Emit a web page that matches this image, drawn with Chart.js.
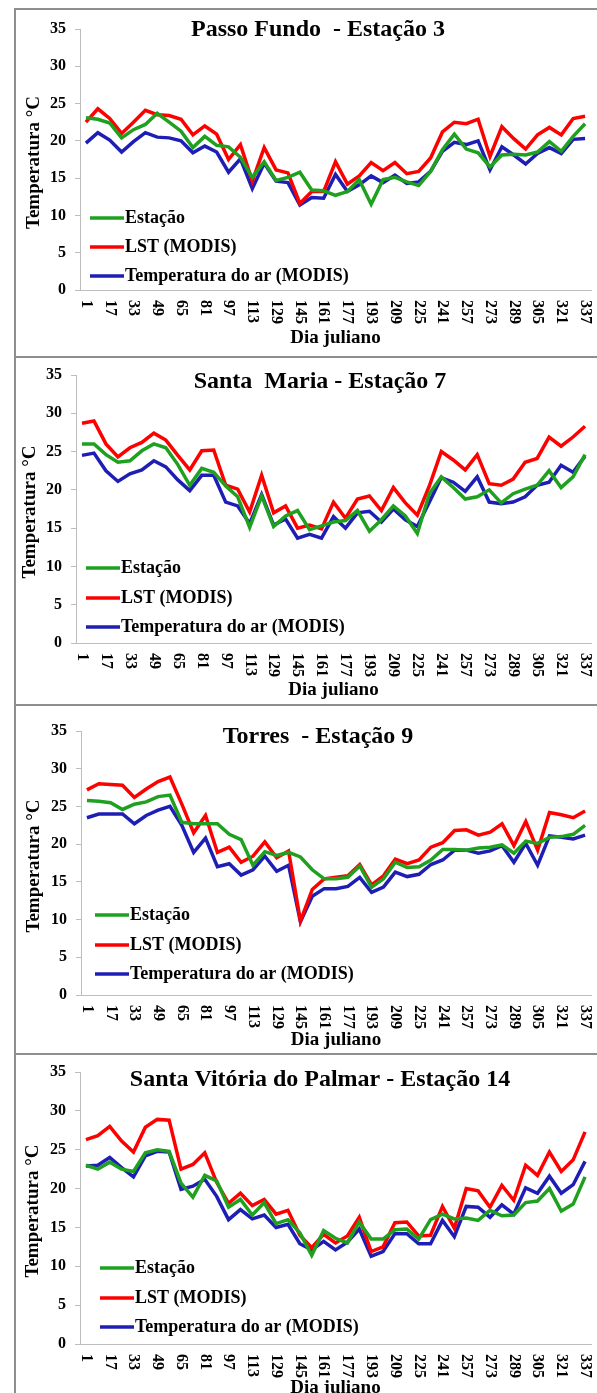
<!DOCTYPE html>
<html>
<head>
<meta charset="utf-8">
<script src="https://cdn.jsdelivr.net/npm/chart.js@4.4.1/dist/chart.umd.min.js"></script>
<style>
  body { margin: 0; background: #fff; width: 597px; height: 1393px; overflow: hidden; position: relative; }
  .panel { position: absolute; left: 14px; width: 620px; border: 2px solid #8e8e8e; border-right: none; box-sizing: border-box; }
  canvas { position: absolute; left: 0; }
</style>
</head>
<body>
<div id="wrap"></div>
<script>
// dias julianos (compostos MODIS de 8 dias)
const dias = [1, 9, 17, 25, 33, 41, 49, 57, 65, 73, 81, 89, 97, 105, 113, 121, 129, 137, 145, 153, 161, 169,
  177, 185, 193, 201, 209, 217, 225, 233, 241, 249, 257, 265, 273, 281, 289, 297, 305, 313, 321, 329, 337];
const yTicks = [0, 5, 10, 15, 20, 25, 30, 35];
const seriesNames = ['Estação', 'LST (MODIS)', 'Temperatura do ar (MODIS)'];
const titles = ['Passo Fundo  - Estação 3', 'Santa  Maria - Estação 7', 'Torres  - Estação 9', 'Santa Vitória do Palmar - Estação 14'];

// Passo Fundo
const pfEstacao = [23.1, 22.9, 22.4, 20.4, 21.5, 22.2, 23.7, 22.5, 21.3, 19.1, 20.6, 19.4, 19.2, 17.8, 15.1, 17.2, 14.7, 15.1, 15.8, 13.4, 13.3, 12.7,
  13.2, 14.8, 11.5, 14.8, 15.1, 14.5, 14.0, 15.9, 18.8, 20.9, 18.9, 18.4, 16.5, 18.1, 18.2, 18.1, 18.5, 19.9, 18.6, 20.6, 22.3];
const pfLST = [22.5, 24.3, 23.0, 21.0, 22.5, 24.1, 23.5, 23.4, 22.9, 20.8, 22.0, 20.9, 17.5, 19.5, 14.6, 19.1, 16.1, 15.7, 11.6, 13.2, 13.2, 17.2,
  14.2, 15.3, 17.1, 16.0, 17.1, 15.6, 15.9, 17.7, 21.2, 22.5, 22.3, 22.9, 17.9, 21.9, 20.3, 18.9, 20.8, 21.8, 20.8, 23.0, 23.3];
const pfAr = [19.7, 21.1, 20.1, 18.5, 19.9, 21.1, 20.5, 20.4, 20.0, 18.4, 19.3, 18.5, 15.8, 17.6, 13.6, 17.0, 14.6, 14.4, 11.4, 12.4, 12.3, 15.5,
  13.2, 14.1, 15.3, 14.4, 15.4, 14.3, 14.5, 15.9, 18.6, 19.8, 19.5, 20.0, 16.1, 19.2, 18.1, 16.9, 18.3, 19.1, 18.3, 20.2, 20.3];

// Santa Maria
const smEstacao = [26.0, 26.0, 24.6, 23.6, 23.8, 25.1, 26.0, 25.5, 23.3, 20.6, 22.8, 22.3, 20.5, 19.1, 15.1, 19.2, 15.2, 16.6, 17.3, 14.8, 15.3, 15.8,
  16.0, 17.3, 14.6, 16.1, 17.9, 16.6, 14.3, 19.5, 21.7, 20.3, 18.8, 19.1, 20.0, 18.3, 19.5, 20.1, 20.6, 22.5, 20.3, 21.7, 24.6];
const smLST = [28.7, 29.0, 26.0, 24.3, 25.5, 26.2, 27.4, 26.5, 24.5, 22.6, 25.1, 25.2, 20.6, 20.1, 17.1, 21.9, 17.0, 17.9, 15.0, 15.4, 14.9, 18.4,
  16.3, 18.8, 19.2, 17.3, 20.3, 18.3, 16.7, 20.5, 25.0, 23.9, 22.6, 24.6, 20.8, 20.6, 21.4, 23.6, 24.1, 26.9, 25.7, 26.9, 28.3];
const smAr = [24.5, 24.8, 22.5, 21.1, 22.1, 22.6, 23.8, 23.0, 21.3, 19.9, 21.9, 21.9, 18.4, 17.9, 15.6, 19.4, 15.4, 16.2, 13.7, 14.2, 13.7, 16.5,
  15.0, 17.0, 17.2, 15.8, 17.5, 16.1, 15.2, 18.4, 21.6, 21.0, 19.8, 21.7, 18.4, 18.2, 18.4, 19.1, 20.6, 21.0, 23.2, 22.3, 24.4];

// Torres
const toEstacao = [25.8, 25.7, 25.5, 24.6, 25.3, 25.6, 26.3, 26.5, 22.9, 22.7, 22.7, 22.7, 21.3, 20.6, 17.2, 19.0, 18.5, 18.9, 18.3, 16.6, 15.4, 15.4,
  15.6, 17.1, 14.3, 15.4, 17.6, 16.9, 17.0, 17.9, 19.3, 19.3, 19.2, 19.5, 19.6, 19.9, 18.8, 20.4, 20.1, 20.9, 21.0, 21.3, 22.5];
const toLST = [27.2, 28.0, 27.9, 27.8, 26.2, 27.3, 28.3, 28.9, 25.3, 21.5, 23.8, 18.9, 19.6, 17.6, 18.4, 20.3, 18.2, 19.1, 9.8, 14.0, 15.4, 15.6,
  15.8, 17.3, 14.6, 15.8, 18.0, 17.4, 17.9, 19.6, 20.2, 21.8, 21.9, 21.2, 21.6, 22.7, 19.8, 23.0, 19.2, 24.2, 23.9, 23.5, 24.4];
const toAr = [23.5, 24.0, 24.0, 24.0, 22.7, 23.8, 24.5, 25.0, 22.5, 18.9, 20.8, 17.0, 17.4, 15.9, 16.6, 18.4, 16.4, 17.2, 9.7, 13.1, 14.1, 14.1,
  14.4, 15.6, 13.6, 14.3, 16.3, 15.7, 16.0, 17.3, 17.9, 19.2, 19.2, 18.8, 19.1, 19.8, 17.6, 20.1, 17.2, 21.1, 20.9, 20.7, 21.2];

// Santa Vitória do Palmar
const svEstacao = [23.0, 22.5, 23.4, 22.5, 22.2, 24.6, 25.0, 24.8, 20.7, 18.9, 21.7, 21.0, 17.6, 18.6, 16.6, 18.2, 15.5, 16.0, 14.3, 11.4, 14.6, 13.6,
  13.0, 15.7, 13.5, 13.5, 14.7, 14.8, 13.5, 16.0, 16.7, 16.1, 16.2, 15.9, 17.2, 16.5, 16.6, 18.2, 18.4, 20.0, 17.1, 18.0, 21.5];
const svLST = [26.3, 26.8, 28.0, 26.1, 24.7, 27.9, 28.9, 28.8, 22.5, 23.1, 24.6, 20.8, 18.1, 19.4, 17.8, 18.6, 16.7, 17.2, 14.0, 12.4, 14.1, 13.0,
  13.9, 16.3, 11.9, 12.5, 15.6, 15.7, 13.9, 14.0, 17.7, 14.9, 20.0, 19.7, 17.6, 20.4, 18.5, 23.0, 21.7, 24.7, 22.2, 23.7, 27.3];
const svAr = [22.9, 23.0, 24.0, 22.7, 21.5, 24.2, 24.8, 24.7, 19.9, 20.3, 21.2, 19.0, 16.0, 17.3, 16.1, 16.6, 15.0, 15.4, 12.9, 12.1, 13.2, 12.1,
  13.1, 14.8, 11.3, 11.9, 14.2, 14.2, 12.9, 12.9, 15.9, 13.8, 17.7, 17.6, 16.3, 17.9, 16.7, 20.1, 19.4, 21.6, 19.4, 20.5, 23.5];

const colors = ['#1fa01f', '#ff0000', '#1e1eb4'];
const FONT = "'Liberation Serif', 'Times New Roman', serif";

// posicoes de cada painel na pagina (px)
const panels = [
  { top: 8, h: 348, axisLeft: 80, y35: 29, y0: 290, titleX: 318, titleY: 30, yTitleX: 34, xTitleY: 338, legX: 90, legY: [218, 247, 276], data: [pfEstacao, pfLST, pfAr] },
  { top: 356, h: 348, axisLeft: 76, y35: 375, y0: 643, titleX: 320, titleY: 382, yTitleX: 30, xTitleY: 690, legX: 86, legY: [568, 598, 627], data: [smEstacao, smLST, smAr] },
  { top: 704, h: 349, axisLeft: 81, y35: 731, y0: 995, titleX: 318, titleY: 737, yTitleX: 34, xTitleY: 1040, legX: 95, legY: [915, 945, 974], data: [toEstacao, toLST, toAr] },
  { top: 1053, h: 340, axisLeft: 80, y35: 1072, y0: 1344, titleX: 320, titleY: 1080, yTitleX: 33, xTitleY: 1388, legX: 100, legY: [1268, 1298, 1327], data: [svEstacao, svLST, svAr] }
];

const wrap = document.getElementById('wrap');

panels.forEach((p, k) => {
  const box = document.createElement('div');
  box.className = 'panel';
  box.style.top = p.top + 'px';
  box.style.height = (p.h + 2) + 'px';
  wrap.appendChild(box);

  const canvas = document.createElement('canvas');
  canvas.style.top = p.top + 'px';
  canvas.width = 597;
  canvas.height = p.h;
  canvas.style.width = '597px';
  canvas.style.height = p.h + 'px';
  wrap.appendChild(canvas);

  const yAxisWidth = 40;

  const textPlugin = {
    id: 'textos' + k,
    afterDraw(chart) {
      const ctx = chart.ctx;
      const x = chart.scales.x;
      const top = p.top;
      ctx.save();
      ctx.fillStyle = '#000';

      // titulo
      ctx.font = 'bold 24px ' + FONT;
      ctx.textAlign = 'center';
      ctx.textBaseline = 'middle';
      ctx.fillText(titles[k], p.titleX, p.titleY - top);

      // titulo eixo x
      ctx.font = 'bold 19px ' + FONT;
      ctx.fillText('Dia juliano', (chart.chartArea.left + chart.chartArea.right) / 2, p.xTitleY - top);

      // titulo eixo y
      ctx.save();
      ctx.translate(p.yTitleX, (chart.chartArea.top + chart.chartArea.bottom) / 2 + 3);
      ctx.rotate(-Math.PI / 2);
      ctx.fillText('Temperatura °C', 0, 0);
      ctx.restore();

      // rotulos do eixo x (a cada 16 dias, lidos de cima para baixo)
      ctx.font = 'bold 16px ' + FONT;
      ctx.textAlign = 'left';
      dias.forEach((d, i) => {
        if (i % 2 !== 0) return;
        const px = x.getPixelForValue(i);
        ctx.save();
        ctx.translate(px, chart.chartArea.bottom + 10);
        ctx.rotate(Math.PI / 2);
        ctx.fillText(String(d), 0, 0);
        ctx.restore();
      });

      // legenda
      ctx.font = 'bold 18px ' + FONT;
      ctx.textBaseline = 'middle';
      seriesNames.forEach((name, i) => {
        const ly = p.legY[i] - top;
        ctx.strokeStyle = colors[i];
        ctx.lineWidth = 3.5;
        ctx.beginPath();
        ctx.moveTo(p.legX, ly);
        ctx.lineTo(p.legX + 34, ly);
        ctx.stroke();
        ctx.fillText(name, p.legX + 35, ly);
      });
      ctx.restore();
    }
  };

  new Chart(canvas.getContext('2d'), {
    type: 'line',
    data: {
      labels: dias,
      datasets: seriesNames.map((name, i) => ({
        label: name,
        data: p.data[i],
        borderColor: colors[i],
        borderWidth: 3.5,
        pointRadius: 0,
        tension: 0,
        fill: false
      }))
    },
    options: {
      responsive: false,
      animation: false,
      layout: {
        padding: {
          left: p.axisLeft - yAxisWidth,
          right: 6,
          top: p.y35 - p.top,
          bottom: p.top + p.h - p.y0
        }
      },
      plugins: {
        legend: { display: false },
        title: { display: false },
        tooltip: { enabled: false }
      },
      scales: {
        x: {
          type: 'category',
          offset: true,
          ticks: { display: false },
          grid: { display: false },
          border: { display: true, color: '#bdbdbd', width: 1 },
          afterFit: s => { s.height = 0; }
        },
        y: {
          min: 0,
          max: 35,
          afterBuildTicks: s => { s.ticks = yTicks.map(v => ({ value: v })); },
          ticks: {
            color: '#000',
            padding: 9,
            font: { family: FONT, size: 16, weight: 'bold' }
          },
          grid: { drawOnChartArea: false, drawTicks: true, tickLength: 5, color: '#bdbdbd' },
          border: { display: true, color: '#bdbdbd', width: 1 },
          afterFit: s => { s.width = yAxisWidth; }
        }
      }
    },
    plugins: [textPlugin]
  });
});
</script>
</body>
</html>
